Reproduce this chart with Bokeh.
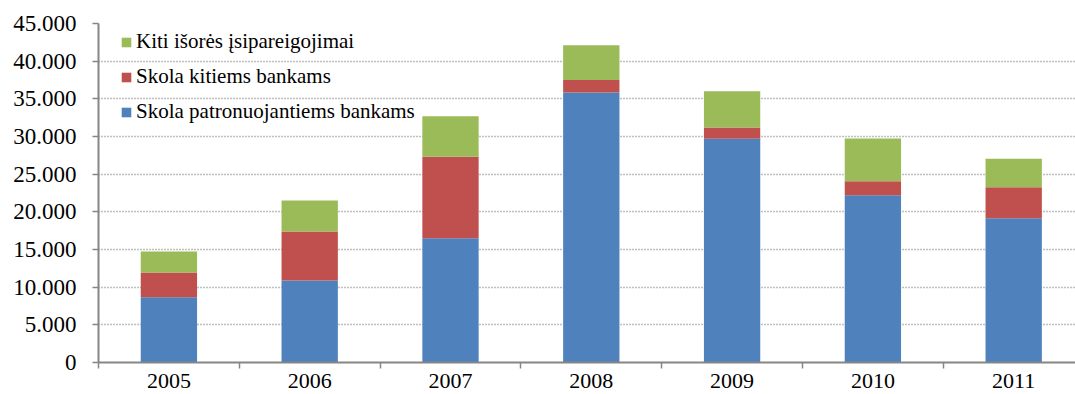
from bokeh.plotting import figure
from bokeh.models import ColumnDataSource, Range1d, FixedTicker, Legend, LegendItem
from bokeh.embed import file_html
from bokeh.resources import INLINE

# ---- data ----
years = ["2005", "2006", "2007", "2008", "2009", "2010", "2011"]
skola_patronuojantiems = [8650, 10900, 16500, 35850, 29700, 22200, 19150]
skola_kitiems = [3300, 6500, 10800, 1650, 1500, 1850, 4100]
kiti_isipareigojimai = [2800, 4100, 5400, 4600, 4800, 5700, 3800]
series_names = ["Skola patronuojantiems bankams", "Skola kitiems bankams", "Kiti išorės įsipareigojimai"]
series_colors = ["#4f81bd", "#c0504d", "#9bbb59"]
y_ticks = [0, 5000, 10000, 15000, 20000, 25000, 30000, 35000, 40000, 45000]
y_tick_labels = ["0", "5.000", "10.000", "15.000", "20.000", "25.000", "30.000", "35.000", "40.000", "45.000"]

x = list(range(len(years)))
src = ColumnDataSource(dict(x=x, a=skola_patronuojantiems, b=skola_kitiems, c=kiti_isipareigojimai))

GRAY = "#868686"
FONT = "Liberation Serif"

p = figure(width=1075, height=394, output_backend="svg", toolbar_location=None,
           x_range=Range1d(-0.5, 6.439), y_range=Range1d(0, 45000),
           min_border_left=98, min_border_right=0, min_border_top=23, min_border_bottom=32)
p.outline_line_color = None
p.background_fill_color = "white"

rs = p.vbar_stack(["a", "b", "c"], x="x", width=0.4, color=series_colors, source=src,
                  line_color=None)

# grid
p.xgrid.visible = False
p.ygrid.ticker = FixedTicker(ticks=y_ticks)
p.ygrid.grid_line_color = "#808080"
p.ygrid.grid_line_width = 1.5
p.ygrid.grid_line_dash = "1 2"

# y axis
p.yaxis.ticker = FixedTicker(ticks=y_ticks)
p.yaxis.major_label_overrides = {t: l for t, l in zip(y_ticks, y_tick_labels)}
p.yaxis.axis_line_color = GRAY
p.yaxis.axis_line_width = 2
p.yaxis.major_tick_line_color = GRAY
p.yaxis.major_tick_line_width = 1.5
p.yaxis.major_tick_out = 6
p.yaxis.major_tick_in = 0
p.yaxis.minor_tick_line_color = None
p.yaxis.major_label_standoff = 16
p.yaxis.major_label_text_font = FONT
p.yaxis.major_label_text_font_size = "23px"
p.yaxis.major_label_text_color = "black"

# x axis
bounds = [i - 0.5 for i in range(len(years) + 1)]
p.xaxis.ticker = FixedTicker(ticks=x, minor_ticks=bounds)
p.xaxis.major_label_overrides = {i: y for i, y in zip(x, years)}
p.xaxis.axis_line_color = GRAY
p.xaxis.axis_line_width = 2
p.xaxis.major_tick_out = 0
p.xaxis.major_tick_in = 0
p.xaxis.minor_tick_line_color = GRAY
p.xaxis.minor_tick_line_width = 1.5
p.xaxis.minor_tick_out = 6
p.xaxis.minor_tick_in = 0
p.xaxis.major_label_standoff = 5
p.xaxis.major_label_text_font = FONT
p.xaxis.major_label_text_font_size = "22px"
p.xaxis.major_label_text_color = "black"

items = [LegendItem(label=series_names[i], renderers=[rs[i]]) for i in (2, 1, 0)]
legend = Legend(items=items, location=(22, 233), orientation="vertical",
                glyph_width=12, glyph_height=12, label_standoff=4, spacing=0,
                label_height=35, padding=0, margin=0,
                border_line_color=None, background_fill_alpha=0,
                label_text_font=FONT, label_text_font_size="21px",
                label_text_color="black")
p.add_layout(legend)

open("out.html", "w").write(file_html(p, INLINE))
